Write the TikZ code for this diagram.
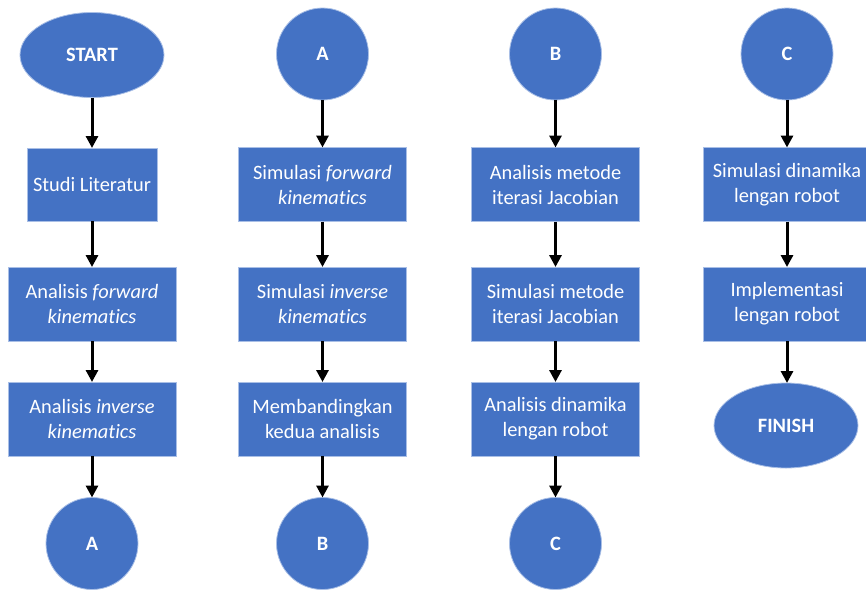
\documentclass[tikz,border=0pt]{standalone}
\usepackage{fontspec}
\setmainfont{Carlito}[Ligatures=NoCommon]
\usetikzlibrary{shapes.geometric,arrows.meta}
\definecolor{boxblue}{HTML}{4472C4}
\definecolor{edgeblue}{HTML}{A9BFE6}
\begin{document}
\begin{tikzpicture}[x=0.75pt,y=-0.75pt,
  base/.style={fill=boxblue,draw=edgeblue,line width=0.6pt,text=white,
    inner sep=0pt,outer sep=0pt,align=center,
    font=\fontsize{15.3}{18.75}\selectfont},
  procbox/.style={base,rectangle,minimum width=126pt,minimum height=55.5pt},
  conn/.style={base,circle,minimum size=69pt,font=\fontsize{15.3}{18.75}\selectfont\bfseries},
  term/.style={base,ellipse,minimum width=108pt,minimum height=63.75pt,font=\fontsize{15.3}{18.75}\selectfont\bfseries},
  flow/.style={line width=2.25pt,-{Triangle[length=9pt,width=9pt]}}]
\useasboundingbox (0,0) rectangle (866,589);
% column 1
\node[term] (start) at (92,55) {START};
\node[procbox,minimum width=97.5pt,minimum height=54.75pt] (c1a) at (92,184.5) {Studi Literatur};
\node[procbox] (c1b) at (92,304) {Analisis \textit{forward}\\\textit{kinematics}};
\node[procbox] (c1c) at (92,419) {Analisis \textit{inverse}\\\textit{kinematics}};
\node[conn] (c1d) at (92,543.5) {A};
% column 2
\node[conn] (c2t) at (322.5,54) {A};
\node[procbox] (c2a) at (322.5,184.5) {Simulasi \textit{forward}\\\textit{kinematics}};
\node[procbox] (c2b) at (322.5,304) {Simulasi \textit{inverse}\\\textit{kinematics}};
\node[procbox] (c2c) at (322.5,419) {Membandingkan\\kedua analisis};
\node[conn] (c2d) at (322.5,543.5) {B};
% column 3
\node[conn] (c3t) at (555.5,54) {B};
\node[procbox] (c3a) at (555.5,184.5) {Analisis metode\\iterasi Jacobian};
\node[procbox] (c3b) at (555.5,304) {Simulasi metode\\iterasi Jacobian};
\node[procbox] (c3c) at (555.5,419) {Analisis dinamika\\lengan robot};
\node[conn] (c3d) at (555.5,543.5) {C};
% column 4
\node[conn] (c4t) at (787,54) {C};
\node[procbox] (c4a) at (787,184.5) {Simulasi dinamika\\lengan robot};
\node[procbox] (c4b) at (787,304) {Implementasi\\lengan robot};
\node[term] (finish) at (786,425.5) {FINISH};
% connectors
\draw[flow] (start) -- (c1a);
\draw[flow] (c1a) -- (c1b);
\draw[flow] (c1b) -- (c1c);
\draw[flow] (c1c) -- (c1d);
\draw[flow] (c2t) -- (c2a);
\draw[flow] (c2a) -- (c2b);
\draw[flow] (c2b) -- (c2c);
\draw[flow] (c2c) -- (c2d);
\draw[flow] (c3t) -- (c3a);
\draw[flow] (c3a) -- (c3b);
\draw[flow] (c3b) -- (c3c);
\draw[flow] (c3c) -- (c3d);
\draw[flow] (c4t) -- (c4a);
\draw[flow] (c4a) -- (c4b);
\draw[flow] (c4b.south) -- (c4b.south |- finish.north);
\end{tikzpicture}
\end{document}
